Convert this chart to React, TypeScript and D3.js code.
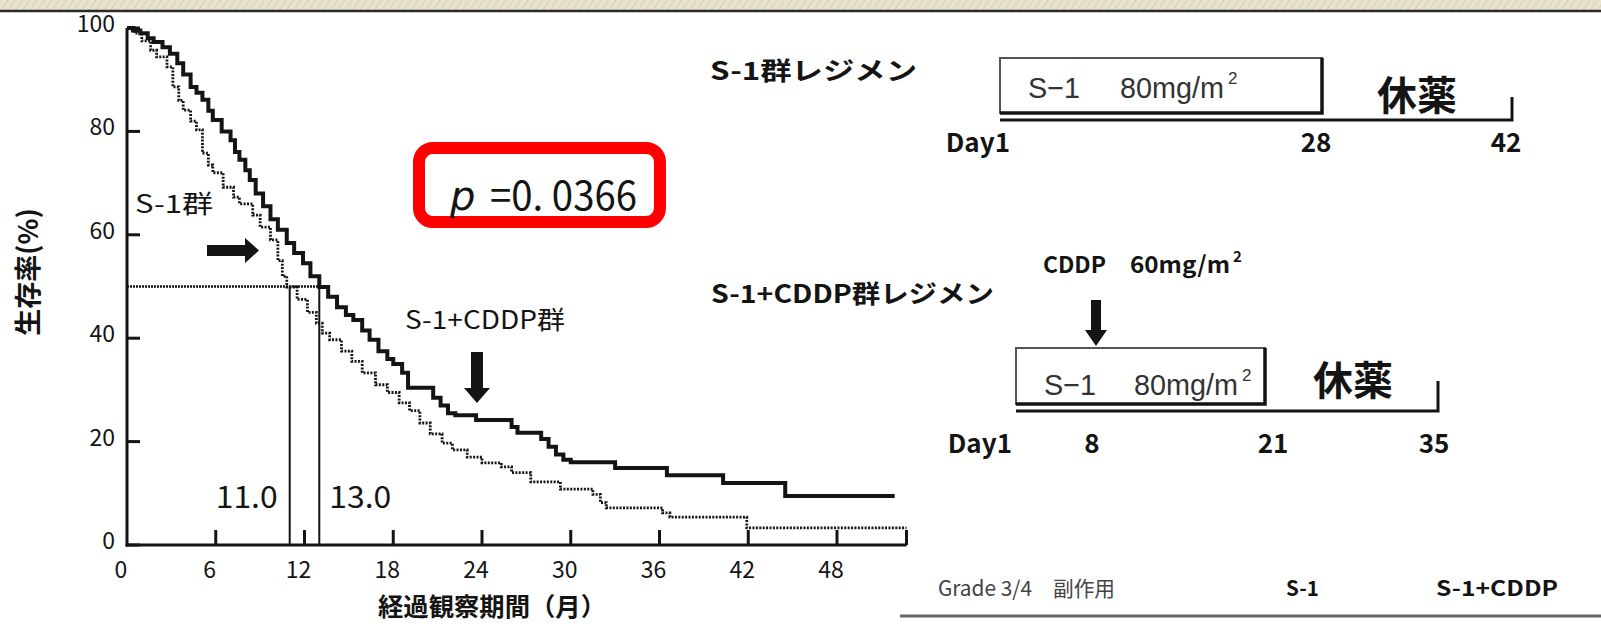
import React from "react";
import * as d3 from "d3";

// Kaplan-Meier curves: [month, survival %]
const cddpCurve: [number, number][] = [
  [0, 100], [0.4, 99.5], [0.9, 99], [1.4, 98], [1.8, 97.3], [2.4, 96.3],
  [2.9, 95], [3.4, 93.2], [3.8, 91], [4.3, 88.6], [4.7, 87.5], [5.1, 86.1],
  [5.5, 84], [5.8, 82.2], [6.4, 80], [7.0, 78.3], [7.3, 76], [7.6, 74.5],
  [8.0, 72.5], [8.3, 70.6], [8.7, 68], [9.2, 65.5], [9.7, 63], [10.2, 61],
  [10.8, 58.4], [11.3, 56.5], [11.9, 54.5], [12.4, 52], [13.0, 49.9],
  [13.6, 48], [14.2, 46], [14.8, 44.5], [15.3, 43.5], [15.9, 41.5],
  [16.4, 39.7], [17.0, 37.5], [17.6, 36], [18.0, 35], [18.6, 33.3],
  [19.0, 30.4], [20.7, 28.5], [21.2, 27], [21.7, 25.5], [22.2, 25.1],
  [23.6, 24.2], [26.0, 22.8], [26.4, 21.7], [28.0, 20.5], [28.5, 19],
  [29.0, 17.5], [29.5, 16.5], [30.0, 16], [33.0, 14.9], [36.5, 13.5],
  [40.3, 12], [44.5, 9.5], [51.9, 9.5],
];

const s1Curve: [number, number][] = [
  [0, 100], [0.5, 99], [1.0, 97.5], [1.6, 95.7], [2.0, 94.4], [2.7, 92.5],
  [3.1, 88.6], [3.5, 86], [3.8, 84.1], [4.3, 82], [4.7, 80.3], [5.1, 75.8],
  [5.5, 73.5], [5.8, 72], [6.5, 69.2], [7.2, 67.3], [7.6, 66], [8.5, 63.8],
  [9.0, 61.5], [9.7, 59], [10.2, 55], [10.5, 52], [10.8, 49.9], [11.5, 47.5],
  [12.2, 45], [12.8, 42.9], [13.2, 41], [13.7, 39.7], [14.5, 37.5],
  [15.2, 35.5], [15.9, 33.3], [16.8, 31], [17.6, 29.5], [18.4, 27.5],
  [19.1, 26], [19.8, 23.6], [20.5, 21.5], [21.3, 19.7], [22.0, 18.4],
  [23.0, 17], [24.0, 15.9], [25.3, 15.1], [26.0, 14], [27.3, 12.2],
  [29.3, 10.8], [31.5, 9.8], [32.0, 8.2], [32.4, 7.2], [36.2, 6.2],
  [36.7, 5.4], [41.9, 3.3], [52.7, 3.3],
];

const monthTicks = [0, 6, 12, 18, 24, 30, 36, 42, 48];
const survTicks = [0, 20, 40, 60, 80, 100];
const medians = [11.0, 13.0];
const medianLabels = ["11.0", "13.0"];
const axisEndMonth = 52.7;

// regimen schedules
const s1Days = [1, 28, 42];
const s1DayLabels = ["Day1", "28", "42"];
const cddpDays = [1, 8, 21, 35];
const cddpDayLabels = ["Day1", "8", "21", "35"];

const tableHeaders = ["Grade 3/4", "副作用", "S-1", "S-1+CDDP"];

const JP = "'Noto Sans CJK JP', 'DejaVu Sans', sans-serif";
const NARROW = "'Liberation Sans Narrow', 'Liberation Sans', 'DejaVu Sans Condensed', sans-serif";
const INK = "#141414";

const W = 1601;
const H = 624;

export default function App() {
  const x = d3.scaleLinear().domain([0, 48]).range([127, 837]);
  const y = d3.scaleLinear().domain([0, 100]).range([545, 28]);

  const line = d3
    .line<[number, number]>()
    .x((d) => x(d[0]))
    .y((d) => y(d[1]))
    .curve(d3.curveStepAfter);

  const r1 = d3.scaleLinear().domain(s1Days).range([1000, 1322, 1512]);
  const r2 = d3.scaleLinear().domain(cddpDays).range([1016, 1096, 1265, 1438]);

  const regBox = (x0: number, x1: number, y0: number, y1: number) => (
    <g>
      <rect x={x0} y={y0} width={x1 - x0} height={y1 - y0} fill="#fff" stroke="#555" strokeWidth={2} />
      <path d={`M${x0},${y1} H${x1} V${y0}`} fill="none" stroke={INK} strokeWidth={3.5} />
    </g>
  );

  // dose text; the superscript sits right of the main text
  const dose = (x0: number, xb: number, base: number) => (
    <g fontFamily={NARROW} fontSize={29} fill="#333">
      <text x={x0} y={base} textLength={52} lengthAdjust="spacingAndGlyphs">S−1</text>
      <text x={xb} y={base} textLength={104} lengthAdjust="spacingAndGlyphs">80mg/m</text>
      <text x={xb + 108} y={base - 14} fontSize={17}>2</text>
    </g>
  );

  return (
    <svg
      width={W}
      height={H}
      style={{ position: "absolute", left: 0, top: 0, background: "#fff" }}
      xmlns="http://www.w3.org/2000/svg"
    >
      <defs>
        <pattern id="linen" width={6} height={6} patternUnits="userSpaceOnUse" patternTransform="rotate(35)">
          <rect width={6} height={6} fill="#e8e3cd" />
          <line x1={0} y1={0} x2={0} y2={6} stroke="#d6cfb3" strokeWidth={2} />
        </pattern>
      </defs>
      <rect width={W} height={H} fill="#fff" />

      {/* axes */}
      <g stroke={INK} strokeWidth={3} fill="none">
        <line x1={x(0)} x2={x(0)} y1={y(100)} y2={y(0) + 1.5} />
        <line x1={x(0) - 1.5} x2={x(axisEndMonth)} y1={y(0)} y2={y(0)} />
        <line x1={x(axisEndMonth)} x2={x(axisEndMonth)} y1={y(0)} y2={y(0) - 15} />
        {survTicks.map((t) => (
          <line key={"yt" + t} x1={x(0)} x2={x(0) + 13} y1={y(t)} y2={y(t)} />
        ))}
        {monthTicks.slice(1).map((t) => (
          <line key={"xt" + t} x1={x(t)} x2={x(t)} y1={y(0)} y2={y(0) - 15} />
        ))}
      </g>
      <g fontFamily={JP} fontSize={23} fill={INK} textAnchor="end">
        {survTicks.map((t) => (
          <text key={"yl" + t} x={x(0) - 12} y={y(t) + 4}>{t}</text>
        ))}
      </g>
      <g fontFamily={JP} fontSize={23} fill={INK} textAnchor="middle">
        {monthTicks.map((t) => (
          <text key={"xl" + t} x={x(t) - 6} y={578}>{t}</text>
        ))}
      </g>
      <text
        transform="translate(38, 272) rotate(-90)"
        fontFamily={JP}
        fontSize={27}
        fontWeight="bold"
        fill={INK}
        textAnchor="middle"
      >
        生存率(%)
      </text>
      <text x={378} y={616} fontFamily={JP} fontSize={25} fontWeight="bold" fill={INK} textLength={228} lengthAdjust="spacingAndGlyphs">
        経過観察期間（月）
      </text>

      {/* median lines */}
      <line
        x1={x(0)}
        x2={x(medians[1])}
        y1={y(50)}
        y2={y(50)}
        stroke={INK}
        strokeWidth={2.5}
        strokeDasharray="2 1"
      />
      {medians.map((m) => (
        <line key={"m" + m} x1={x(m)} x2={x(m)} y1={y(50)} y2={y(0)} stroke={INK} strokeWidth={2} />
      ))}
      <g fontFamily={JP} fontSize={30} fill={INK}>
        <text x={x(medians[0]) - 12} y={508} textAnchor="end" textLength={62} lengthAdjust="spacingAndGlyphs">
          {medianLabels[0]}
        </text>
        <text x={x(medians[1]) + 10} y={508} textLength={62} lengthAdjust="spacingAndGlyphs">
          {medianLabels[1]}
        </text>
      </g>

      {/* survival curves */}
      <path d={line(s1Curve) ?? ""} fill="none" stroke={INK} strokeWidth={2.8} strokeDasharray="2 1.4" />
      <path d={line(cddpCurve) ?? ""} fill="none" stroke={INK} strokeWidth={4} strokeLinejoin="miter" />

      {/* annotations */}
      <text x={135} y={213} fontFamily={JP} fontSize={25} fill={INK} textLength={78} lengthAdjust="spacingAndGlyphs">
        S-1群
      </text>
      <path d="M207,245 H245 V238 L259,250.5 L245,263 V256 H207 Z" fill={INK} />
      <text x={405} y={329} fontFamily={JP} fontSize={25} fill={INK} textLength={160} lengthAdjust="spacingAndGlyphs">
        S-1+CDDP群
      </text>
      <path d="M471,352 H483 V388 H490 L477,403 L464,388 H471 Z" fill={INK} />

      {/* p value */}
      <rect x={419} y={148} width={241} height={74} rx={14} fill="#fff" stroke="#ff0000" strokeWidth={12} />
      <text x={450} y={210} fontFamily="'DejaVu Sans', sans-serif" fontStyle="italic" fontSize={40} fill={INK}>
        p
      </text>
      <text x={490} y={210} fontFamily={JP} fontSize={40} fill={INK} textLength={147} lengthAdjust="spacingAndGlyphs">
        =0. 0366
      </text>

      {/* S-1 regimen */}
      <text x={710} y={80} fontFamily={JP} fontSize={25} fontWeight="bold" fill={INK} textLength={207} lengthAdjust="spacingAndGlyphs">
        S-1群レジメン
      </text>
      {regBox(r1(1), r1(28), 58, 113)}
      {dose(r1(1) + 28, 1120, 98)}
      <path d={`M${r1(1)},120 H${r1(42)} V97`} fill="none" stroke={INK} strokeWidth={3} />
      <text x={1377} y={110} fontFamily={JP} fontSize={40} fontWeight="bold" fill={INK}>
        休薬
      </text>
      <g fontFamily={JP} fontSize={26} fontWeight="bold" fill={INK}>
        {s1Days.map((d, i) => (
          <text
            key={"d1" + d}
            x={i === 0 ? r1(d) + 10 : r1(d) - 6}
            y={152}
            textAnchor={i === 0 ? "end" : "middle"}
          >
            {s1DayLabels[i]}
          </text>
        ))}
      </g>

      {/* S-1 + CDDP regimen */}
      <text x={711} y={303} fontFamily={JP} fontSize={25} fontWeight="bold" fill={INK} textLength={283} lengthAdjust="spacingAndGlyphs">
        S-1+CDDP群レジメン
      </text>
      <g fontFamily={JP} fontSize={23} fontWeight="bold" fill={INK}>
        <text x={1043} y={273} textLength={63} lengthAdjust="spacingAndGlyphs">CDDP</text>
        <text x={1130} y={273} textLength={100} lengthAdjust="spacingAndGlyphs">60mg/m</text>
        <text x={1233} y={262} fontSize={15}>2</text>
      </g>
      <path
        d={`M${r2(8) - 5},300 H${r2(8) + 5} V330 H${r2(8) + 11} L${r2(8)},346 L${r2(8) - 11},330 H${r2(8) - 5} Z`}
        fill={INK}
      />
      {regBox(r2(1), r2(21), 348, 404)}
      {dose(r2(1) + 28, 1134, 395)}
      <path d={`M${r2(1)},411 H${r2(35)} V381`} fill="none" stroke={INK} strokeWidth={3} />
      <text x={1313} y={395} fontFamily={JP} fontSize={40} fontWeight="bold" fill={INK}>
        休薬
      </text>
      <g fontFamily={JP} fontSize={26} fontWeight="bold" fill={INK}>
        {cddpDays.map((d, i) => (
          <text
            key={"d2" + d}
            x={i === 0 ? r2(d) - 4 : i === 2 ? r2(d) + 8 : r2(d) - 4}
            y={453}
            textAnchor={i === 0 ? "end" : "middle"}
          >
            {cddpDayLabels[i]}
          </text>
        ))}
      </g>

      {/* side effects table header */}
      <g fontFamily={JP} fontSize={21} fill="#444">
        <text x={938} y={596} textLength={94} lengthAdjust="spacingAndGlyphs">{tableHeaders[0]}</text>
        <text x={1053} y={596} textLength={62} lengthAdjust="spacingAndGlyphs">{tableHeaders[1]}</text>
        <text x={1286} y={596} fontWeight="bold" fill={INK} textLength={33} lengthAdjust="spacingAndGlyphs">{tableHeaders[2]}</text>
        <text x={1436} y={596} fontWeight="bold" fill={INK} textLength={122} lengthAdjust="spacingAndGlyphs">{tableHeaders[3]}</text>
      </g>
      <line x1={900} x2={W} y1={616} y2={616} stroke="#666" strokeWidth={3} />

      {/* slide border */}
      <rect x={0} y={0} width={W} height={10} fill="url(#linen)" />
      <line x1={0} x2={W} y1={11} y2={11} stroke="#2a2a2a" strokeWidth={2.5} />
    </svg>
  );
}
